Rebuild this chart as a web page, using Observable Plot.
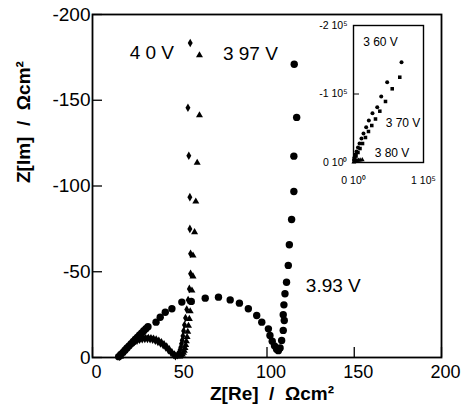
<!DOCTYPE html>
<html><head><meta charset="utf-8">
<script src="https://cdn.jsdelivr.net/npm/d3@7"></script>
<script src="https://cdn.jsdelivr.net/npm/@observablehq/plot@0.6"></script>
<style>
body{margin:0;background:#fff}
#wrap{position:relative;width:461px;height:410px}
#wrap svg{position:absolute}
</style>
</head><body><div id="wrap"></div>
<script>
// ---- main chart data: [Z_Re, Z_Im] in Ω cm² ----
const v393 = [[15,-0.5],[16.2,-1.8],[17.5,-3],[18.6,-4.3],[19.8,-5.5],[21,-6.8],[22.2,-8.1],[23.4,-9.3],[24.6,-10.6],[25.8,-11.8],[27,-13.1],[28.2,-14.3],[29.4,-15.6],[30.6,-16.8],[31.8,-18],
 [36.4,-20.6],[38.8,-23.5],[41.7,-26.4],[45.5,-28.4],[51.2,-32.3],[56.6,-32.7],[64.6,-34.6],[72.2,-35.2],[78.9,-33.6],[84.2,-31.7],[89.3,-28.4],[94.1,-24.5],[97,-20.6],[100.8,-16.7],[101.7,-12.8],[103,-9.5],[104.3,-6.8],[105.5,-4.8],[106.5,-4],[107.5,-5.5],[108.4,-9.9],[109.3,-15.8],[109.9,-21.6],[109.3,-25],[109.7,-30.7],[110.3,-37.2],[111.2,-43.9],[112.2,-53.7],[112.8,-65.7],[114.1,-80.5],[115.4,-96.8],[115.4,-117.4],[117,-140],[115.6,-171]];
const v397 = [[61.3,-176.2],[61.3,-141.2],[60,-113.6],[59.2,-91],[58.5,-73.1],[57.6,-59.5],[57.6,-47.3],[57,-39.1],[56.5,-32.5],[56,-27],[55.5,-22.5],[55,-18.5],[54.6,-15],[54.2,-12],[53.8,-9.5],[53.4,-7.3],[53,-5.5],[52.6,-4],[52.1,-2.8],[51.5,-1.8],[50.8,-1],[50,-0.6],
 [16,-0.5],[17,-2.5],[18.5,-4.5],[20,-6.2],[21.5,-7.6],[23,-8.8],[24.5,-9.8],[26,-10.5],[27.5,-11],[29,-11.3],[30.5,-11.5],[32,-11.5],[33.5,-11.4],[35,-11.1],[36.5,-10.6],[38,-9.9],[39.5,-9],[41,-7.9],[42.5,-6.5],[44,-4.9],[45.5,-3.2],[47,-1.8],[48.5,-0.8]];
const v40 = [[56,-183.4],[54.7,-145.6],[55.2,-117.6],[55.8,-93.5],[55.8,-75],[56.2,-60.5],[56.2,-48.8],[55.5,-40],[54.8,-33.5],[54,-28],[53.3,-23],[52.7,-19],[52.2,-15.5],[51.8,-12.5],[51.4,-10],[51,-8],[50.6,-6],[50.2,-4.5],[49.8,-3.2],[49.3,-2.2],[48.6,-1.4],[47.5,-0.8],
 [15.5,-0.5],[16.5,-2.2],[18,-4],[19.5,-5.6],[21,-7],[22.5,-8.2],[24,-9.1],[25.5,-9.8],[27,-10.3],[28.5,-10.6],[30,-10.8],[31.5,-10.8],[33,-10.6],[34.5,-10.3],[36,-9.8],[37.5,-9.1],[39,-8.2],[40.5,-7.1],[42,-5.8],[43.5,-4.3],[45,-2.8],[46.5,-1.5]];
const xTicks = [0,50,100,150,200];
const yTicks = [0,-50,-100,-150,-200];
const mainLabels = [{x:34,y:-177.5,t:"4 0 V"},{x:90.5,y:-177,t:"3 97 V"},{x:138,y:-42,t:"3.93 V"}];

// ---- inset data: [Z_Re, Z_Im] in Ω cm² ----
const v360 = [[68600,-146400],[48100,-117200],[39600,-96400],[33900,-80700],[27100,-72000],[21900,-61300],[18100,-51500],[14300,-42300],[11400,-35000],[8600,-27700],[6400,-21900],[4300,-16100],[2900,-11700],[1400,-7300],[700,-3600]];
const v370 = [[66100,-124500],[55300,-107600],[45700,-89100],[37600,-74900],[31400,-63500],[26100,-54000],[21400,-45300],[17100,-36500],[12900,-27700],[9300,-20400],[6400,-14600],[3600,-9500],[1400,-5100]];
const v380 = [[500,-500],[1200,-1200],[2200,-2000],[3500,-2600],[5000,-3000],[7000,-3300],[9500,-3600],[12500,-3800]];
const insetXTicks = [0,100000];
const insetYTicks = [0,-100000,-200000];
const insetLabels = [{x:38600,y:-175200,t:"3 60 V"},{x:70700,y:-56900,t:"3 70 V"},{x:55000,y:-13100,t:"3 80 V"}];

const font = "'Liberation Sans', Arial, Helvetica, sans-serif";
const wrap = document.getElementById("wrap");

const main = Plot.plot({
  width: 461, height: 410,
  marginLeft: 92, marginRight: 20, marginTop: 14, marginBottom: 53,
  style: {fontFamily: font, background: "white", color: "black"},
  x: {domain: [0, 200]},
  y: {domain: [0, -200]},
  marks: [
    Plot.frame({stroke: "black", strokeWidth: 1.8}),
    Plot.axisX({ticks: xTicks, tickSize: -10, tickFormat: () => "", label: null, strokeWidth: 1.3}),
    Plot.axisX({ticks: xTicks, tickSize: 0, tickPadding: 8, dx: 4, fontSize: 18, tickFormat: d => String(d), label: null}),
    Plot.axisY({ticks: yTicks, tickSize: -10, tickFormat: () => "", label: null, strokeWidth: 1.3}),
    Plot.axisY({ticks: yTicks, tickSize: 0, tickPadding: 2, fontSize: 19, tickFormat: d => String(d), label: null, style: {letterSpacing: "4px"}}),
    Plot.text(["Z[Re]  /  Ωcm²"], {text: d => d, frameAnchor: "bottom", dy: 42, dx: 5, fontSize: 19, fontWeight: "bold", style: {whiteSpace: "pre"}}),
    Plot.text(["Z[Im]  /  Ωcm²"], {text: d => d, frameAnchor: "left", rotate: -90, dx: -69, dy: -3, fontSize: 19, fontWeight: "bold", style: {whiteSpace: "pre"}}),
    Plot.dot(v393, {x: d => d[0], y: d => d[1], r: 3.7, fill: "black", symbol: "circle"}),
    Plot.dot(v397, {x: d => d[0], y: d => d[1], r: 2.6, fill: "black", symbol: "triangle"}),
    Plot.dot(v40, {x: d => d[0], y: d => d[1], r: 2.6, fill: "black", symbol: "diamond"}),
    Plot.text(mainLabels, {x: "x", y: "y", text: "t", fontSize: 19})
  ]
});
wrap.appendChild(main);

const inset = Plot.plot({
  width: 140, height: 200,
  marginLeft: 53, marginRight: 17, marginTop: 25, marginBottom: 38,
  style: {fontFamily: font, background: "transparent", color: "black", overflow: "visible"},
  x: {domain: [0, 100000]},
  y: {domain: [0, -200000]},
  marks: [
    Plot.frame({stroke: "black", strokeWidth: 1.4}),
    Plot.axisX({ticks: insetXTicks, tickSize: 0, tickPadding: 14, fontSize: 10.5, tickFormat: d => d === 0 ? "0 10⁰" : `${d/1e5} 10⁵`, label: null}),
    Plot.axisY({ticks: insetYTicks, tickSize: -6, tickPadding: 12, fontSize: 10.5, tickFormat: d => d === 0 ? "0 10⁰" : `${d/1e5} 10⁵`, label: null}),
    Plot.dot(v360, {x: d => d[0], y: d => d[1], r: 2, fill: "black", symbol: "circle"}),
    Plot.dot(v370, {x: d => d[0], y: d => d[1], r: 2, fill: "black", symbol: "square"}),
    Plot.dot(v380, {x: d => d[0], y: d => d[1], r: 1.8, fill: "black", symbol: "triangle"}),
    Plot.text(insetLabels, {x: "x", y: "y", text: "t", fontSize: 12})
  ]
});
inset.style.left = "300px";
inset.style.top = "0px";
wrap.appendChild(inset);
</script></body></html>
